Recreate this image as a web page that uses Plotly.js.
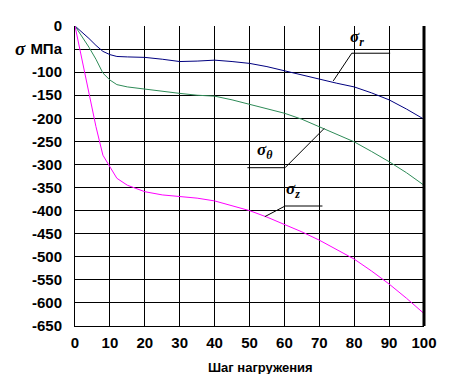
<!DOCTYPE html>
<html>
<head>
<meta charset="utf-8">
<script src="https://cdn.plot.ly/plotly-3.0.1.min.js"></script>
<style>
html,body{margin:0;padding:0;background:#fff;}
#chart{width:454px;height:374px;}
</style>
</head>
<body>
<div id="chart"></div>
<script>
const steps = [0,2,4,6,8,10,12,15,20,25,30,35,40,45,50,55,60,65,70,75,80,85,90,95,100];
const sigmaR = [0,-13,-27,-42,-55,-62,-66,-67,-68,-72,-77,-76,-74,-77,-81,-88,-97,-106,-116,-124,-132,-145,-160,-180,-202];
const sigmaTheta = [0,-23,-46,-72,-102,-117,-127,-132,-137,-141,-146,-150,-152,-160,-170,-179,-189,-202,-218,-234,-251,-272,-294,-318,-345];
const sigmaZ = [0,-73,-146,-218,-280,-305,-330,-345,-359,-366,-369,-373,-379,-390,-400,-414,-430,-446,-464,-484,-505,-531,-559,-590,-623];

const xTickVals = [0,10,20,30,40,50,60,70,80,90,100];
const yTickVals = [0,-50,-100,-150,-200,-250,-300,-350,-400,-450,-500,-550,-600,-650];
const yTickText = ['0','МПа','-100','-150','-200','-250','-300','-350','-400','-450','-500','-550','-600','-650'];

const xTitle = 'Шаг нагружения';
const yTitle = 'σ';

const tickFont = {family:'Liberation Sans, Arial, sans-serif', size:15, color:'#000', weight:'bold'};
const symFont = {family:'Liberation Serif, Times New Roman, serif', size:17, color:'#000'};

const traces = [
  {x: steps, y: sigmaR, mode:'lines', line:{color:'#000080', width:1}, hoverinfo:'skip'},
  {x: steps, y: sigmaTheta, mode:'lines', line:{color:'#2e8b57', width:1}, hoverinfo:'skip'},
  {x: steps, y: sigmaZ, mode:'lines', line:{color:'#ff00ff', width:1}, hoverinfo:'skip'}
];

const leader = (pts) => ({type:'path', xref:'x', yref:'y',
  path: 'M ' + pts.map(p => p[0] + ',' + p[1]).join(' L '),
  line:{color:'#000', width:1}});

const layout = {
  width:454, height:374,
  margin:{l:75, r:30, t:26, b:48},
  paper_bgcolor:'#fff', plot_bgcolor:'#fff',
  showlegend:false,
  xaxis:{range:[0,100], tickvals:xTickVals, ticks:'', showgrid:true, gridcolor:'#000', gridwidth:1,
         zeroline:false, showline:true, linecolor:'#000', linewidth:1, mirror:false,
         tickfont:tickFont, ticklen:0, ticklabelstandoff:3, fixedrange:true},
  yaxis:{range:[-650,0], tickvals:yTickVals, ticktext:yTickText, ticks:'', showgrid:true, gridcolor:'#000', gridwidth:1,
         zeroline:false, showline:true, linecolor:'#000', linewidth:1,
         tickfont:tickFont, ticklabelstandoff:9, fixedrange:true},
  shapes:[
    {type:'line', xref:'paper', yref:'paper', x0:1, x1:1, y0:0, y1:1, line:{color:'#000', width:3}},
    leader([[74,-119],[79.3,-59],[90.3,-59]]),
    leader([[49.4,-307],[60.2,-307],[71.4,-222]]),
    leader([[54.4,-413],[60.2,-390],[70.9,-390]])
  ],
  annotations:[
    {x:80.8, y:-26, xref:'x', yref:'y', showarrow:false, text:'<b><i>σ<sub>r</sub></i></b>', font:symFont},
    {x:54.4, y:-271, xref:'x', yref:'y', showarrow:false, text:'<b><i>σ<sub>θ</sub></i></b>', font:symFont},
    {x:62.5, y:-355, xref:'x', yref:'y', showarrow:false, text:'<b><i>σ<sub>z</sub></i></b>', font:symFont},
    {x:22, y:48, xref:'paper', yref:'paper', showarrow:false, text:'<b><i>'+yTitle+'</i></b>',
     font:{family:'Liberation Serif, Times New Roman, serif', size:19, color:'#000'},
     xanchor:'center', yanchor:'middle'},
    {x:260, y:368, xref:'paper', yref:'paper', showarrow:false, text:'<b>'+xTitle+'</b>',
     font:{family:'Liberation Sans, Arial, sans-serif', size:13, color:'#000'}, xanchor:'center', yanchor:'middle'}
  ]
};

// convert pixel-positioned paper annotations (sigma label and x title) to paper fractions
const plotW = 454-75-30, plotH = 374-26-48;
layout.annotations[3].x = (20-75)/plotW; layout.annotations[3].y = 1-(48-26)/plotH;
layout.annotations[4].x = (260-75)/plotW; layout.annotations[4].y = 1-(368-26)/plotH;

Plotly.newPlot('chart', traces, layout, {staticPlot:true, displayModeBar:false});
</script>
</body>
</html>
